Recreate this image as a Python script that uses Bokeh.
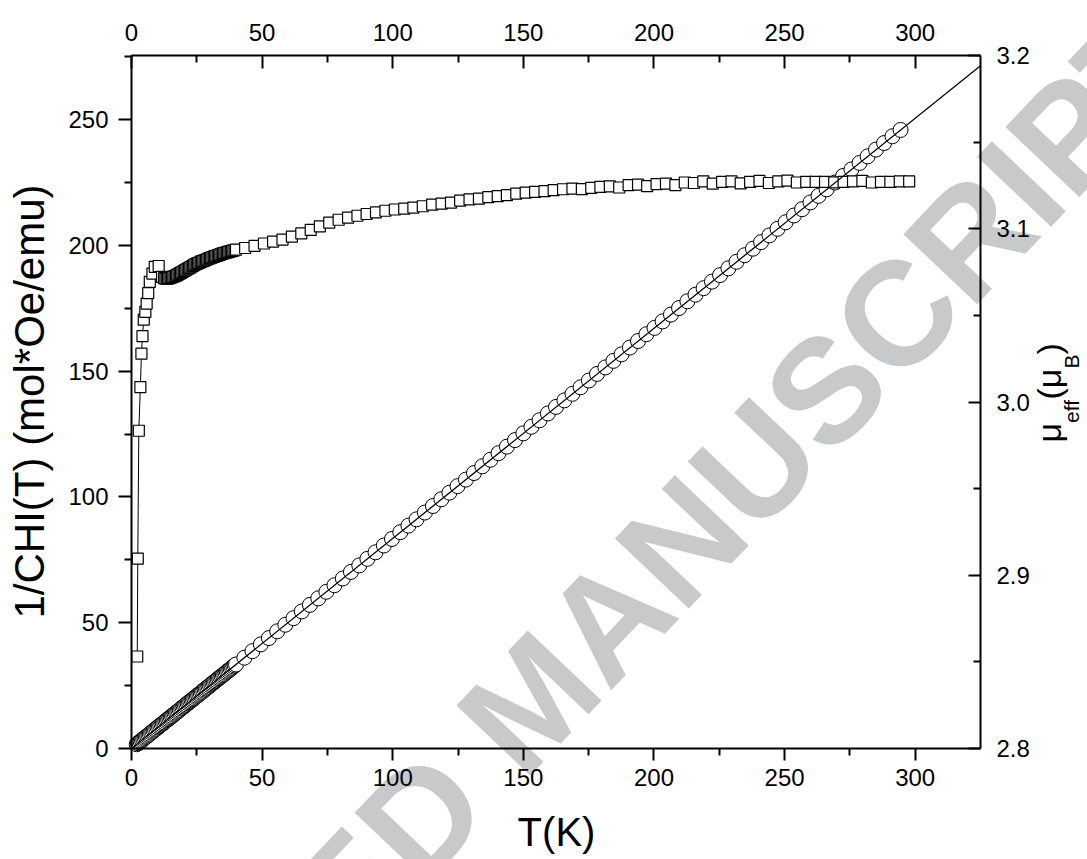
from bokeh.plotting import figure
from bokeh.models import Range1d, LinearAxis, FixedTicker, PrintfTickFormatter, Label
from bokeh.embed import file_html
from bokeh.resources import INLINE

# ---------------- data ----------------
# 1/CHI(T) (circles, left axis)
T_chi_low = [2.0, 2.5, 3.0, 3.5, 4.0, 4.5, 5.0, 5.5, 6.0, 6.5, 7.0, 7.5, 8.0, 8.5, 9.0, 9.5,
             10.0, 10.5, 11.0, 11.5, 12.0, 12.5, 13.0, 13.5, 14.0, 14.5, 15.0, 15.5, 16.0, 16.5,
             17.0, 17.5, 18.0, 18.5, 19.0, 19.5, 20.0, 20.5, 21.0, 21.5, 22.0, 22.5, 23.0, 23.5,
             24.0, 24.5, 25.0, 25.5, 26.0, 26.5, 27.0, 27.5, 28.0, 28.5, 29.0, 29.5, 30.0, 30.5,
             31.0, 31.5, 32.0, 32.5, 33.0, 33.5, 34.0, 34.5, 35.0, 35.5, 36.0, 36.5, 37.0, 37.5,
             38.0, 38.5, 39.0, 39.5, 40.0]
invchi_low = [1.7, 2.1, 2.5, 2.9, 3.3, 3.8, 4.2, 4.6, 5.0, 5.4, 5.8, 6.3, 6.7, 7.1, 7.5, 7.9,
              8.4, 8.8, 9.2, 9.6, 10.0, 10.4, 10.9, 11.3, 11.7, 12.1, 12.5, 12.9, 13.4, 13.8,
              14.2, 14.6, 15.0, 15.4, 15.9, 16.3, 16.7, 17.1, 17.5, 18.0, 18.4, 18.8, 19.2, 19.6,
              20.0, 20.5, 20.9, 21.3, 21.7, 22.1, 22.5, 23.0, 23.4, 23.8, 24.2, 24.6, 25.1, 25.5,
              25.9, 26.3, 26.7, 27.1, 27.6, 28.0, 28.4, 28.8, 29.2, 29.6, 30.1, 30.5, 30.9, 31.3,
              31.7, 32.1, 32.6, 33.0, 33.4]
T_chi_high = [43.2, 46.3, 49.5, 52.6, 55.8, 58.9, 62.0, 65.2, 68.3, 71.5, 74.6, 77.7, 80.9, 84.0,
              87.2, 90.3, 93.4, 96.6, 99.7, 102.9, 106.0, 109.1, 112.3, 115.4, 118.6, 121.7, 124.8,
              128.0, 131.1, 134.3, 137.4, 140.5, 143.7, 146.8, 150.0, 153.1, 156.2, 159.4, 162.5,
              165.7, 168.8, 171.9, 175.1, 178.2, 181.4, 184.5, 187.6, 190.8, 193.9, 197.1, 200.2,
              203.3, 206.5, 209.6, 212.8, 215.9, 219.0, 222.2, 225.3, 228.5, 231.6, 234.7, 237.9,
              241.0, 244.2, 247.3, 250.4, 253.6, 256.7, 259.9, 263.0, 266.1, 269.3, 272.4, 275.6,
              278.7, 281.8, 285.0, 288.1, 291.3, 294.4]
invchi_high = [36.1, 38.7, 41.4, 43.9, 46.6, 49.2, 51.8, 54.5, 57.1, 59.7, 62.3, 64.9, 67.6, 70.2,
               72.8, 75.4, 78.0, 80.7, 83.3, 86.0, 88.6, 91.1, 93.8, 96.4, 99.1, 101.7, 104.3,
               106.9, 109.5, 112.2, 114.8, 117.4, 120.0, 122.6, 125.3, 127.9, 130.5, 133.2, 135.8,
               138.4, 141.0, 143.6, 146.3, 148.9, 151.5, 154.1, 156.7, 159.4, 162.0, 164.7, 167.2,
               169.8, 172.5, 175.1, 177.8, 180.4, 183.0, 185.6, 188.2, 190.9, 193.5, 196.1, 198.7,
               201.3, 204.0, 206.6, 209.2, 211.9, 214.4, 217.1, 219.7, 222.3, 225.0, 227.6, 230.2,
               232.8, 235.4, 238.1, 240.7, 243.4, 245.9]

# Curie-Weiss fit line (left axis)
fit_T = [0.0, 325.0]
fit_invchi = [0.0, 271.4]

# mu_eff (squares, right axis)
T_mu_low = [2.2, 2.4, 2.8, 3.4, 3.8, 4.2, 4.7, 5.3, 5.8, 6.4, 7.0, 8.0, 8.9, 10.4, 11.7]
mu_low = [2.8531, 2.9096, 2.9834, 3.0086, 3.0279, 3.0380, 3.0475, 3.0520, 3.0568, 3.0629,
          3.0693, 3.0741, 3.0780, 3.0785, 3.0722]
T_mu_mid = [12.5, 13.0, 13.5, 14.0, 14.5, 15.0, 15.5, 16.0, 16.5, 17.0, 17.5, 18.0, 18.5, 19.0,
            19.5, 20.0, 20.5, 21.0, 21.5, 22.0, 22.5, 23.0, 23.5, 24.0, 24.5, 25.0, 25.5, 26.0,
            26.5, 27.0, 27.5, 28.0, 28.5, 29.0, 29.5, 30.0, 30.5, 31.0, 31.5, 32.0, 32.5, 33.0,
            33.5, 34.0, 34.5, 35.0, 35.5, 36.0, 36.5, 37.0, 37.5, 38.0, 38.5, 39.0, 39.5, 40.0]
mu_mid = [3.0715, 3.0712, 3.0712, 3.0714, 3.0715, 3.0718, 3.0721, 3.0724, 3.0727, 3.0730,
          3.0734, 3.0738, 3.0743, 3.0747, 3.0751, 3.0756, 3.0760, 3.0764, 3.0769, 3.0773,
          3.0777, 3.0782, 3.0786, 3.0791, 3.0795, 3.0799, 3.0802, 3.0805, 3.0810, 3.0812,
          3.0815, 3.0818, 3.0821, 3.0824, 3.0827, 3.0830, 3.0833, 3.0836, 3.0839, 3.0842,
          3.0844, 3.0846, 3.0849, 3.0852, 3.0855, 3.0858, 3.0859, 3.0862, 3.0863, 3.0866,
          3.0868, 3.0871, 3.0872, 3.0875, 3.0876, 3.0879]
T_mu_high = [43.5, 47.1, 50.7, 54.2, 57.8, 61.4, 65.0, 68.6, 72.1, 75.7, 79.3, 82.9, 86.5, 90.0,
             93.6, 97.2, 100.8, 104.4, 107.9, 111.5, 115.1, 118.7, 122.3, 125.8, 129.4, 133.0,
             136.6, 140.2, 143.7, 147.3, 150.9, 154.5, 158.1, 161.6, 165.2, 168.8, 172.4, 176.0,
             179.5, 183.1, 186.7, 190.3, 193.9, 197.4, 201.0, 204.6, 208.2, 211.8, 215.3, 218.9,
             222.5, 226.1, 229.7, 233.2, 236.8, 240.4, 244.0, 247.6, 251.1, 254.7, 258.3, 261.9,
             265.5, 269.0, 272.6, 276.2, 279.8, 283.4, 286.9, 290.5, 294.1, 297.7]
mu_high = [3.0889, 3.0901, 3.0915, 3.0926, 3.0937, 3.0955, 3.0973, 3.0994, 3.1014, 3.1035,
           3.1052, 3.1064, 3.1075, 3.1085, 3.1095, 3.1104, 3.1111, 3.1116, 3.1122, 3.1130,
           3.1139, 3.1145, 3.1151, 3.1162, 3.1170, 3.1174, 3.1183, 3.1188, 3.1194, 3.1203,
           3.1209, 3.1213, 3.1217, 3.1223, 3.1228, 3.1232, 3.1229, 3.1236, 3.1242, 3.1245,
           3.1238, 3.1252, 3.1255, 3.1246, 3.1258, 3.1261, 3.1252, 3.1267, 3.1264, 3.1273,
           3.1260, 3.1270, 3.1274, 3.1262, 3.1271, 3.1276, 3.1264, 3.1273, 3.1278, 3.1267,
           3.1270, 3.1271, 3.1270, 3.1268, 3.1271, 3.1273, 3.1276, 3.1267, 3.1271, 3.1271,
           3.1273, 3.1273]

# axes ticks and limits
x_ticks = [0, 50, 100, 150, 200, 250, 300]
x_minor = [25, 75, 125, 175, 225, 275]
y_ticks = [0, 50, 100, 150, 200, 250]
y_minor = [25, 75, 125, 175, 225, 275]
mu_ticks = [2.8, 2.9, 3.0, 3.1, 3.2]
mu_minor = [2.85, 2.95, 3.05, 3.15]

X_MAX = 325.0
Y_MAX = 275.5
MU_MIN, MU_MAX = 2.8, 3.2

T_chi = T_chi_low + T_chi_high
invchi = invchi_low + invchi_high
T_mu = T_mu_low + T_mu_mid + T_mu_high
mu = mu_low + mu_mid + mu_high

# ---------------- layout ----------------
W, H = 1087, 859
PL, PR, PT, PB = 131, 980, 55, 748   # box of the axes, in canvas px
SX = (PR - PL) / X_MAX
SY = (PB - PT) / Y_MAX
SM = (PB - PT) / (MU_MAX - MU_MIN)

FONT = "Liberation Sans"
MID = 0.3465  # distance (in em) from alphabetic baseline to the text middle

p = figure(width=W, height=H,
           x_range=Range1d(-PL / SX, X_MAX + (W - PR) / SX),
           y_range=Range1d(-(H - PB) / SY, Y_MAX + PT / SY),
           output_backend="svg", toolbar_location=None,
           x_axis_location=None, y_axis_location=None,
           min_border=0)
p.extra_y_ranges = {"mu": Range1d(MU_MIN - (H - PB) / SM, MU_MAX + PT / SM)}
p.xgrid.visible = False
p.ygrid.visible = False
p.outline_line_color = None
p.background_fill_color = "white"
p.border_fill_color = "white"


def style_axis(ax, t_in, t_out, m_in, m_out, standoff):
    ax.axis_line_width = 2
    ax.axis_line_color = "black"
    ax.major_tick_line_width = 2
    ax.minor_tick_line_width = 2
    ax.major_tick_line_color = "black"
    ax.minor_tick_line_color = "black"
    ax.major_tick_in = t_in
    ax.major_tick_out = t_out
    ax.minor_tick_in = m_in
    ax.minor_tick_out = m_out
    ax.major_label_standoff = standoff
    ax.major_label_text_font = FONT
    ax.major_label_text_font_size = "24px"
    ax.major_label_text_color = "black"


xb = LinearAxis(ticker=FixedTicker(ticks=x_ticks, minor_ticks=x_minor),
                fixed_location=0, bounds=(0, X_MAX))
style_axis(xb, 0, 12, 0, 7, 8)
p.add_layout(xb, "below")

yl = LinearAxis(ticker=FixedTicker(ticks=y_ticks, minor_ticks=y_minor),
                fixed_location=0, bounds=(0, Y_MAX))
style_axis(yl, 0, 13, 0, 7, 10)
p.add_layout(yl, "left")

xt = LinearAxis(ticker=FixedTicker(ticks=x_ticks, minor_ticks=x_minor),
                fixed_location=Y_MAX, bounds=(0, X_MAX))
style_axis(xt, 13, 0, 7, 0, 15)
p.add_layout(xt, "above")

yr = LinearAxis(y_range_name="mu", ticker=FixedTicker(ticks=mu_ticks, minor_ticks=mu_minor),
                formatter=PrintfTickFormatter(format="%.1f"),
                fixed_location=X_MAX, bounds=(MU_MIN, MU_MAX))
style_axis(yr, 12, 0, 7, 0, 16)
p.add_layout(yr, "right")

# ---------------- glyphs ----------------
p.scatter(T_chi, invchi, marker="circle", size=15, fill_color="white",
          line_color="black", line_width=1)
p.line(T_mu, mu, y_range_name="mu", line_color="black", line_width=1)
p.scatter(T_mu, mu, y_range_name="mu", marker="square", size=11, fill_color="white",
          line_color="black", line_width=1.2)
p.line(fit_T, fit_invchi, line_color="black", line_width=1.3)


# ---------------- annotations (positions given in canvas px) ----------------
def dx(px):
    return (px - PL) / SX


def dy(py):
    return (PB - py) / SY


# watermark
p.add_layout(Label(x=dx(531), y=dy(699), text="ACCEPTED MANUSCRIPT", angle=46.5,
                   angle_units="deg", text_align="center", text_baseline="middle",
                   text_font=FONT, text_font_style="bold", text_font_size="148px",
                   text_color="#c8c9ca", level="underlay"))

# bottom title (glyph baseline at y=845)
F_T = 40
p.add_layout(Label(x=dx(556), y=dy(845 - MID * F_T), text="T(K)", text_align="center",
                   text_baseline="middle", text_font=FONT, text_font_size=f"{F_T}px",
                   text_color="black"))

# left title (rotated, glyph baseline at x=44)
F_L = 42
p.add_layout(Label(x=dx(44 - MID * F_L), y=dy(401), text="1/CHI(T) (mol*Oe/emu)", angle=90,
                   angle_units="deg", text_align="center", text_baseline="middle",
                   text_font=FONT, text_font_size=f"{F_L}px", text_color="black"))

# right title: mu_eff(mu_B) with subscripts (rotated, baselines at x=1060 / 1078)
F_MAIN, F_SUB = 34, 21
base_x, sub_x = 1060, 1078
parts = [("\u03bc", base_x, 442.0, F_MAIN), ("eff", sub_x, 422.4, F_SUB),
         ("(\u03bc", base_x, 399.1, F_MAIN), ("B", sub_x, 368.1, F_SUB),
         (")", base_x, 354.1, F_MAIN)]
for txt, px, py, fs in parts:
    p.add_layout(Label(x=dx(px - MID * fs), y=dy(py), text=txt, angle=90, angle_units="deg",
                       text_align="left", text_baseline="middle", text_font=FONT,
                       text_font_size=f"{fs}px", text_color="black"))

open("out.html", "w").write(file_html(p, INLINE))
